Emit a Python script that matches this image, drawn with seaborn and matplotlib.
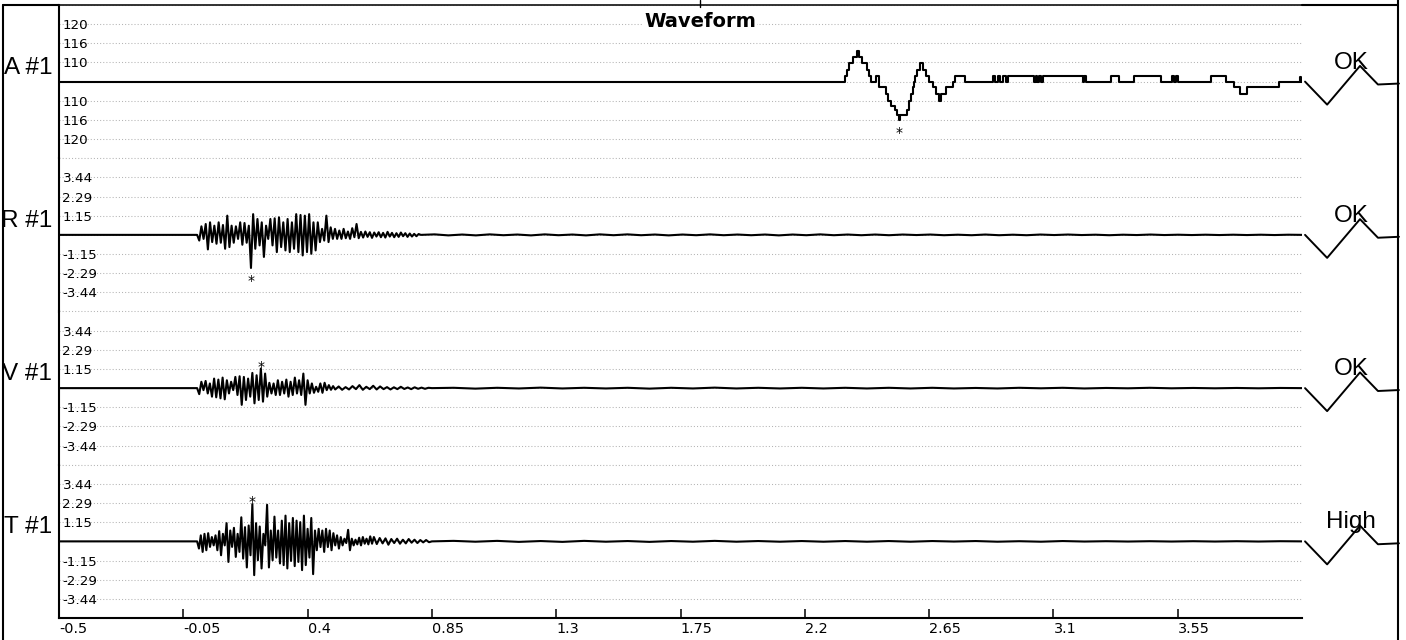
import numpy as np
import pandas as pd
import matplotlib
matplotlib.use("Agg")
import matplotlib.pyplot as plt
import seaborn as sns
from matplotlib.lines import Line2D

# ---- data ----
channel_names = ["A #1", "R #1", "V #1", "T #1"]
channel_status = ["OK", "OK", "OK", "High"]

x_ticks = [-0.5, -0.05, 0.4, 0.85, 1.3, 1.75, 2.2, 2.65, 3.1, 3.55]
x_tick_labels = ["-0.5", "-0.05", "0.4", "0.85", "1.3", "1.75", "2.2", "2.65", "3.1", "3.55"]

seis_unit = 1.146  # one gridline step on R / V / T
seis_tick_labels = ["3.44", "2.29", "1.15", "-1.15", "-2.29", "-3.44"]
a_tick_labels = ["120", "116", "110", "110", "116", "120"]

# A channel: staircase trace (time of each step, level in grid steps)
a_time = [-0.5, 2.344, 2.352, 2.359, 2.376, 2.388, 2.398, 2.407, 2.424, 2.431,
          2.439, 2.458, 2.470, 2.494, 2.501, 2.513, 2.526, 2.533, 2.540, 2.545,
          2.569, 2.576, 2.584, 2.591, 2.596, 2.600, 2.608, 2.617, 2.629, 2.639,
          2.651, 2.663, 2.675, 2.685, 2.692, 2.712, 2.736, 2.745, 2.779, 2.881,
          2.888, 2.898, 2.907, 2.917, 2.927, 2.936, 3.030, 3.036, 3.042, 3.048,
          3.054, 3.061, 3.206, 3.212, 3.218, 3.308, 3.338, 3.393, 3.489, 3.528,
          3.538, 3.544, 3.552, 3.670, 3.725, 3.753, 3.777, 3.801, 3.917, 3.993,
          3.998, 4.0]
a_level = [0, 0.3, 0.6, 0.95, 1.3, 1.6, 1.3, 0.95, 0.6, 0.3,
           0, 0.3, -0.3, -0.65, -1.0, -1.25, -1.5, -1.75, -2.0, -1.75,
           -1.5, -1.0, -0.65, -0.3, 0, 0.3, 0.6, 0.95, 0.6, 0.3,
           0, -0.3, -0.65, -1.0, -0.65, -0.3, 0, 0.3, 0, 0.3,
           0, 0.3, 0, 0.3, 0, 0.3, 0, 0.3, 0, 0.3,
           0, 0.3, 0, 0.3, 0, 0.3, 0, 0.3, 0, 0.3,
           0, 0.3, 0, 0.3, 0, -0.3, -0.65, -0.3, 0, 0.25,
           0, 0]

# R channel: burst peaks (0 .. 0.585 s), coda (.. 0.81 s), tail (.. 4.0 s)
r_burst = [0.0, -0.34, 0.51, -0.24, 0.65, -0.87, 0.75, -0.43, 0.55, -0.53,
           0.75, -0.47, 0.59, -0.83, 1.15, -0.73, 0.55, -0.47, 0.51, -0.24,
           0.75, -0.59, 0.71, -0.47, 0.55, -1.98, 1.24, -0.83, 0.95, -0.63,
           0.75, -1.32, 0.55, -0.24, 0.95, -0.63, 0.99, -1.03, 1.05, -0.73,
           0.75, -0.93, 0.95, -1.03, 0.75, -0.83, 1.24, -1.03, 1.19, -1.23,
           1.15, -1.03, 1.24, -1.13, 0.75, -0.93, 0.75, -0.43, 0.36, -0.34,
           1.15, -0.43, 0.45, -0.24, 0.36, -0.24, 0.26, -0.24, 0.36, -0.2,
           0.2, -0.24, 0.4, -0.14, 0.65, -0.2]
r_coda = [0.18, -0.16, 0.2, -0.12, 0.16, -0.18, 0.14, -0.1, 0.16, -0.14,
          0.12, -0.16, 0.18, -0.1, 0.12, -0.14, 0.1, -0.12, 0.14, -0.08,
          0.1, -0.12, 0.08, -0.1, 0.06, -0.08, 0.05, 0.0]
r_tail = [0.03, -0.03, 0.02, -0.03, 0.03, -0.02, 0.02, -0.03, 0.03, -0.02,
          0.02, -0.03, 0.03, -0.02, 0.03, -0.02, 0.02, -0.03, 0.02, -0.02,
          0.03, -0.02, 0.02, -0.02, 0.02, -0.03, 0.02, -0.02, 0.03, -0.02,
          0.02, -0.02, 0.02, -0.02, 0.02, -0.01, 0.02, -0.02, 0.01, -0.02,
          0.02, -0.02, 0.01, -0.02, 0.02, -0.01, 0.02, -0.01, 0.01, -0.02,
          0.01, -0.01, 0.02, -0.01, 0.01, -0.01, 0.01, -0.01, 0.01, -0.01,
          0.01, -0.01, 0.01, 0.0]

# V channel
v_burst = [0.0, -0.36, 0.38, -0.12, 0.43, -0.32, 0.28, -0.51, 0.57, -0.55,
           0.51, -0.61, 0.63, -0.67, 0.47, -0.32, 0.38, -0.12, 0.67, -0.41,
           0.71, -1.0, 0.67, -0.71, 0.57, -0.51, 0.91, -0.91, 0.77, -0.71,
           1.17, -0.81, 0.87, -0.51, 0.32, -0.32, 0.28, -0.41, 0.47, -0.41,
           0.38, -0.32, 0.51, -0.51, 0.38, -0.41, 0.63, -0.32, 0.47, -0.41,
           0.87, -1.0, 0.47, -0.32, 0.28, -0.28, 0.08, -0.22, 0.28, -0.28,
           0.32, -0.12, 0.18, -0.1, 0.12, -0.08]
v_coda = [0.1, -0.1, 0.06, -0.08, 0.12, -0.06, 0.18, -0.1, 0.08, -0.06,
          0.14, -0.08, 0.1, -0.06, 0.06, -0.08, 0.05, -0.06, 0.08, -0.05,
          0.04, -0.06, 0.05, -0.04, 0.03, -0.04, 0.02, 0.0]
v_tail = [0.02, -0.03, 0.02, -0.02, 0.03, -0.02, 0.02, -0.02, 0.02, -0.03,
          0.02, -0.02, 0.03, -0.02, 0.02, -0.02, 0.02, -0.02, 0.02, -0.02,
          0.02, -0.02, 0.02, -0.02, 0.01, -0.02, 0.02, -0.01, 0.02, -0.02,
          0.01, -0.01, 0.02, -0.01, 0.01, -0.01, 0.01, -0.01, 0.01, 0.0]

# T channel
t_burst = [0.0, -0.43, 0.36, -0.63, 0.45, -0.53, 0.49, -0.33, 0.26, -0.24,
           0.36, -0.53, 0.61, -0.83, 0.45, -0.24, 1.09, -1.23, 0.65, -0.33,
           0.81, -0.93, 0.45, -0.63, 1.44, -1.03, 0.85, -1.56, 0.95, -0.83,
           2.23, -2.02, 1.09, -1.13, 0.89, -1.62, 0.45, -0.24, 2.19, -1.56,
           0.65, -1.13, 1.48, -0.97, 0.65, -1.32, 1.24, -1.42, 1.54, -1.62,
           1.09, -1.17, 1.40, -1.48, 1.24, -1.23, 1.15, -1.72, 1.54, -1.42,
           0.75, -0.97, 1.40, -1.96, 0.65, -0.53, 0.75, -0.34, 0.65, -0.63,
           0.75, -0.34, 0.65, -0.53, 0.49, -0.24, 0.36, -0.43, 0.26, -0.24,
           0.16, -0.1, 0.69, -0.53, 0.16, -0.24, 0.1, -0.18, 0.22, -0.24,
           0.26, -0.14, 0.16, -0.18, 0.3, -0.14, 0.26]
t_coda = [-0.16, 0.2, -0.12, 0.18, -0.2, 0.14, -0.1, 0.16, -0.14, 0.1,
          -0.12, 0.14, -0.08, 0.1, -0.1, 0.08, -0.06, 0.08, -0.05, 0.0]
t_tail = [0.03, -0.02, 0.03, -0.03, 0.02, -0.03, 0.03, -0.02, 0.02, -0.03,
          0.02, -0.02, 0.03, -0.02, 0.02, -0.02, 0.02, -0.02, 0.02, -0.02,
          0.02, -0.02, 0.02, -0.01, 0.02, -0.02, 0.01, -0.02, 0.02, -0.01,
          0.01, -0.01, 0.01, -0.01, 0.01, -0.01, 0.01, -0.01, 0.01, 0.0]

burst_end = {"R": 0.585, "V": 0.50, "T": 0.64}
coda_end = {"R": 0.81, "V": 0.85, "T": 0.85}

# little status glyph to the right of each trace (time, grid steps)
glyph_t = [4.011, 4.091, 4.210, 4.275, 4.351]
glyph_y = [0, -1.2, 0.82, -0.15, -0.1]
status_t = 4.178
star_side = [-1, -1, 1, 1]   # * below the minimum or above the maximum


def seis_frame(burst, coda, tail, b_end, c_end):
    t = np.concatenate([[-0.5],
                        np.linspace(0, b_end, len(burst)),
                        np.linspace(b_end, c_end, len(coda) + 1)[1:],
                        np.linspace(c_end, 4.0, len(tail) + 1)[1:]])
    y = np.concatenate([[0.0], burst, coda, tail])
    return pd.DataFrame({"time": t, "value": y})


traces = [
    pd.DataFrame({"time": a_time, "value": a_level}),
    seis_frame(r_burst, r_coda, r_tail, burst_end["R"], coda_end["R"]),
    seis_frame(v_burst, v_coda, v_tail, burst_end["V"], coda_end["V"]),
    seis_frame(t_burst, t_coda, t_tail, burst_end["T"], coda_end["T"]),
]
units = [1.0, seis_unit, seis_unit, seis_unit]
tick_labels = [a_tick_labels, seis_tick_labels, seis_tick_labels, seis_tick_labels]

# ---- layout ----
sns.set_style("white")
plt.rcParams["font.family"] = ["DejaVu Sans"]
for key in ("text.color", "axes.labelcolor", "xtick.color", "ytick.color"):
    plt.rcParams[key] = "black"

W, H = 1406, 640
fig = plt.figure(figsize=(W / 100, H / 100), dpi=100)
left, right = 59 / W, 1302 / W
top, bottom = 1 - 5 / H, 1 - 618 / H
ph = (top - bottom) / 4

grid_kw = dict(color="#b4b4b4", linewidth=0.75, linestyle=(0, (1, 2)))

for i in range(4):
    ax = fig.add_axes([left, top - (i + 1) * ph, right - left, ph])
    u = units[i]
    df = traces[i]
    sns.lineplot(data=df, x="time", y="value", ax=ax, color="black", linewidth=1.5,
                 estimator=None, sort=False,
                 drawstyle="steps-post" if i == 0 else "default", zorder=3)
    sns.lineplot(x=glyph_t, y=np.array(glyph_y) * u, ax=ax, color="black",
                 linewidth=1.4, estimator=None, sort=False, clip_on=False, zorder=3)
    ax.set_xlim(-0.5, 4.0)
    ax.set_ylim(-4 * u, 4 * u)
    ax.set_xlabel("")
    ax.set_ylabel("")

    ax.set_yticks(np.array([3, 2, 1, -1, -2, -3]) * u)
    ax.set_yticklabels(tick_labels[i])
    ax.tick_params(axis="y", length=0, pad=-2.5, labelsize=9.7, labelcolor="black")
    for lab in ax.get_yticklabels():
        lab.set_horizontalalignment("left")
    ax.grid(axis="y", **grid_kw)
    ax.grid(axis="x", visible=False)
    ax.axhline(0, zorder=1, **grid_kw)
    for edge in (-4, 4):
        ax.axhline(edge * u, clip_on=False, zorder=1, **grid_kw)

    for s in ("right", "top", "bottom"):
        ax.spines[s].set_visible(False)
    ax.spines["left"].set_color("black")
    ax.spines["left"].set_linewidth(1.5)
    if i == 0:
        ax.spines["top"].set_visible(True)
        ax.spines["top"].set_color("#222222")
        ax.spines["top"].set_linewidth(1.3)
        ax.spines["top"].set_linestyle((0, (1, 1)))

    if i < 3:
        ax.set_xticks([])
    else:
        ax.spines["bottom"].set_visible(True)
        ax.spines["bottom"].set_color("black")
        ax.spines["bottom"].set_linewidth(1.5)
        ax.set_xticks(x_ticks)
        ax.set_xticklabels(x_tick_labels)
        ax.tick_params(axis="x", direction="in", length=6.5, width=1.1,
                       pad=3, labelsize=10.4, bottom=True, colors="black")
        for lab in ax.get_xticklabels():
            lab.set_horizontalalignment("left")

    # channel name on the left
    ax.annotate(channel_names[i], xy=(0, 0), xycoords=("axes fraction", "data"),
                xytext=(-7, 8), textcoords="offset pixels", ha="right", va="baseline",
                fontsize=17.5, family=["Liberation Sans"], color="black",
                annotation_clip=False)
    # status text on the right
    ax.annotate(channel_status[i], xy=(status_t, 0), xytext=(0, 13),
                textcoords="offset pixels", ha="center", va="baseline",
                fontsize=17.5, family=["Liberation Sans"], color="black",
                annotation_clip=False)
    # star at the extreme sample
    vals = df["value"].to_numpy()
    k = int(np.argmax(vals)) if star_side[i] > 0 else int(np.argmin(vals))
    ax.annotate("*", xy=(df["time"].iloc[k], vals[k]),
                xytext=(0, -2 if star_side[i] > 0 else -17), textcoords="offset pixels",
                ha="center", va="baseline", fontsize=10, color="black", zorder=4)

fig.text(700 / W, 1 - 27 / H, "Waveform", ha="center", va="baseline",
         fontsize=14, fontweight="bold", color="black",
         bbox=dict(facecolor="white", edgecolor="none", pad=1))

# outer frame
def fline(x0, y0, x1, y1, **kw):
    fig.add_artist(Line2D([x0 / W, x1 / W], [1 - y0 / H, 1 - y1 / H],
                          transform=fig.transFigure, color="black", **kw))

fline(3, 5, 59, 5, linewidth=1.5)
fline(1302, 5, 1398, 5, linewidth=1.5)
fline(3, 5, 3, 640, linewidth=1.5)
fline(1398, 0, 1398, 640, linewidth=1.5)
fline(700, 0, 700, 7, linewidth=1.0)

fig.savefig("out.png", dpi=100, facecolor="white")
